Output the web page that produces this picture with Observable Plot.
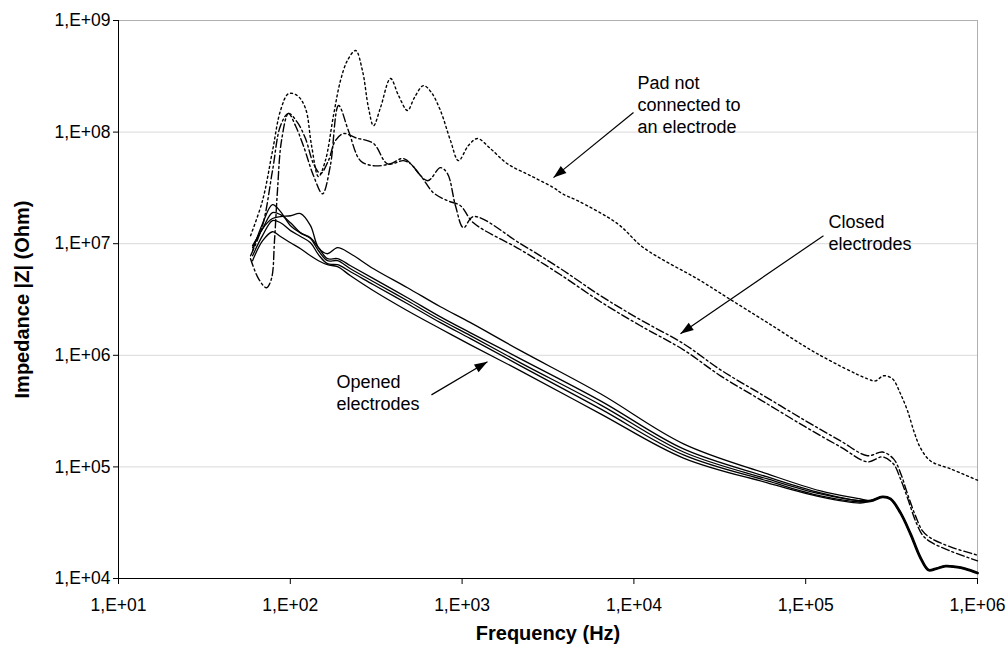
<!DOCTYPE html>
<html><head><meta charset="utf-8">
<script src="https://cdn.jsdelivr.net/npm/d3@7"></script>
<script src="https://cdn.jsdelivr.net/npm/@observablehq/plot@0.6"></script>
<style>
html,body{margin:0;padding:0;background:#fff;}
#chart{width:1007px;height:648px;}
</style></head><body><div id="chart"></div>
<script>
// ---- data: [frequency (Hz), |Z| (Ohm)] ----
const padCurve = [[58.7,1.18e7],[68.9,2.43e7],[78.8,6.8e7],[87.7,1.56e8],[97.6,2.21e8],[110,2.12e8],[122.6,1.63e8],[132.9,7.6e7],[145.9,3.99e7],[160,5.55e7],[178.4,1.41e8],[196,2.9e8],[215,4.38e8],[240,5.38e8],[263,3.56e8],[285,1.66e8],[305,1.14e8],[335,1.66e8],[383,3.02e8],[427,2.12e8],[481,1.56e8],[528,2.04e8],[596,2.61e8],[663,2.26e8],[748,1.56e8],[856,8.4e7],[953,5.55e7],[1089,7.6e7],[1229,8.75e7],[1463,7.11e7],[1837,5.2e7],[2500,4.07e7],[3405,3.18e7],[3837,2.8e7],[4699,2.43e7],[8039,1.51e7],[11380,9.21e6],[24430,4.66e6],[35080,3.28e6],[59950,1.96e6],[117200,1.03e6],[229000,6.15e5],[254700,5.9e5],[283700,6.55e5],[320000,6.15e5],[356300,4.52e5],[391500,3.18e5],[429300,2.02e5],[465600,1.48e5],[532700,1.13e5],[696700,9.6e4],[1000000,7.6e4]];

const closedCurve1 = [[58.7,7.8e6],[68.9,1.45e7],[78.8,4.52e7],[87.7,1.14e8],[97.6,1.47e8],[110,1.22e8],[122.6,8.75e7],[136.5,5.2e7],[149.9,4.25e7],[166.7,5.55e7],[183,8.4e7],[204,9.7e7],[240,8.9e7],[305,7.9e7],[368,5.2e7],[456,5.55e7],[501,5.2e7],[629,3.67e7],[748,4.8e7],[822,4.25e7],[915,2.19e7],[1019,1.39e7],[1164,1.75e7],[2188,1.0e7],[3741,5.97e6],[6391,3.42e6],[10920,2.08e6],[19440,1.27e6],[31920,7.41e5],[54560,4.52e5],[99800,2.59e5],[159500,1.71e5],[229000,1.26e5],[280000,1.36e5],[324600,1.18e5],[356300,8.83e4],[391500,5.72e4],[435600,3.64e4],[478600,2.67e4],[532700,2.31e4],[696700,1.92e4],[1000000,1.62e4]];

const closedCurve2 = [[58.7,7.34e6],[65.3,4.86e6],[72.7,4.03e6],[77.7,4.86e6],[80.9,1.06e7],[84.2,2.99e7],[88.9,8.4e7],[97.6,1.47e8],[107.2,1.14e8],[119,7.6e7],[136.5,4.07e7],[154,2.8e7],[171,5.0e7],[191,1.73e8],[218,1.03e8],[256,5.55e7],[305,5.0e7],[383,5.2e7],[456,5.79e7],[573,4.07e7],[681,2.86e7],[822,2.43e7],[978,2.19e7],[1164,1.54e7],[2188,8.83e6],[3741,5.27e6],[6391,3.02e6],[10920,1.84e6],[19440,1.12e6],[31920,6.55e5],[54560,3.99e5],[99800,2.28e5],[159500,1.51e5],[229000,1.11e5],[280000,1.23e5],[324600,1.06e5],[356300,7.8e4],[391500,5.27e4],[435600,3.28e4],[478600,2.45e4],[532700,2.13e4],[696700,1.76e4],[1000000,1.44e4]];

const openFreq = [60.3,68.9,78.8,87.7,100.3,114.7,131.1,145.9,164.6,188.3,224.1,305,481,748,1119,2188,6391,19440,59950,122000,208400];
const open1Z = [9.21e6,1.36e7,1.68e7,1.75e7,1.78e7,1.86e7,1.45e7,9.21e6,8.13e6,9.21e6,8.13e6,5.97e6,4.03e6,2.72e6,1.96e6,1.10e6,4.52e5,1.61e5,8.65e4,6.09e4,5.16e4];
const open2Z = [8.65e6,1.51e7,2.24e7,1.94e7,1.45e7,1.25e7,1.13e7,9.21e6,7.34e6,7.34e6,6.35e6,4.86e6,3.28e6,2.21e6,1.59e6,9.30e5,3.91e5,1.45e5,8.13e4,5.85e4,4.96e4];
const open3Z = [9.60e6,1.36e7,1.90e7,1.82e7,1.54e7,1.25e7,1.11e7,8.65e6,7.04e6,7.04e6,5.97e6,4.56e6,3.08e6,2.08e6,1.50e6,8.56e5,3.60e5,1.36e5,7.80e4,5.72e4,4.96e4];
const open4Z = [7.80e6,1.18e7,1.61e7,1.54e7,1.31e7,1.16e7,1.02e7,7.97e6,6.62e6,6.48e6,5.61e6,4.29e6,2.90e6,1.96e6,1.41e6,8.05e5,3.31e5,1.28e5,7.49e4,5.49e4,4.86e4];
const open5Z = [7.04e6,1.06e7,1.28e7,1.16e7,1.02e7,9.02e6,7.80e6,7.04e6,6.48e6,6.22e6,5.16e6,3.79e6,2.51e6,1.73e6,1.24e6,7.26e5,2.99e5,1.20e5,7.19e4,5.38e4,4.75e4];
// shared high-frequency tail where the opened-electrode curves coincide
const openTailFreq = [238400,280000,311700,356300,407400,465800,518600,569600,651300,744700,851500,1000000];
const openTailZ = [4.96e4,5.38e4,5.16e4,3.87e4,2.51e4,1.53e4,1.19e4,1.22e4,1.29e4,1.27e4,1.22e4,1.12e4];

const xTicks = [1e1,1e2,1e3,1e4,1e5,1e6];
const xTickLabels = ["1,E+01","1,E+02","1,E+03","1,E+04","1,E+05","1,E+06"];
const yTicks = [1e4,1e5,1e6,1e7,1e8,1e9];
const yTickLabels = ["1,E+04","1,E+05","1,E+06","1,E+07","1,E+08","1,E+09"];

const notes = [
  {f:10500, z:1.80e8, text:"Pad not\nconnected to\nan electrode"},
  {f:135700, z:1.28e7, text:"Closed\nelectrodes"},
  {f:185.7, z:4.71e5, text:"Opened\nelectrodes"}
];
const arrows = [
  {f1:9948, z1:1.50e8, f2:3405, z2:3.91e7},
  {f1:126900, z1:1.18e7, f2:18670, z2:1.56e6},
  {f1:663, z1:4.42e5, f2:1405, z2:8.74e5}
];
const xTitle = "Frequency (Hz)";
const yTitle = "Impedance |Z| (Ohm)";

// ---- build ----
const W = 1007, H = 648;
const M = {top:20, right:30, bottom:70, left:118};
const toRows = (pairs, s) => pairs.map(([f,z]) => ({f, z, s}));
const padRows = toRows(padCurve, "pad");
const closedRows = [...toRows(closedCurve1,"c1"), ...toRows(closedCurve2,"c2")];
const tailPairs = openTailFreq.map((f,i)=>[f, openTailZ[i]]);
const openRows = [open1Z,open2Z,open3Z,open4Z,open5Z].flatMap((zs,k) =>
  toRows([...openFreq.map((f,i)=>[f, zs[i]]), ...tailPairs], "o"+k));
const tailRows = toRows([[openFreq[openFreq.length-1], open3Z[open3Z.length-1]], ...tailPairs], "tail");

// arrow head orientation (screen-space direction)
const sx = d3.scaleLog([1e1,1e6],[M.left, W-M.right]);
const sy = d3.scaleLog([1e4,1e9],[H-M.bottom, M.top]);
const heads = arrows.map(a => {
  const dx = sx(a.f2)-sx(a.f1), dy = sy(a.z2)-sy(a.z1);
  return {f:a.f2, z:a.z2, angle: Math.atan2(dx, -dy)*180/Math.PI};
});
const headSymbol = {draw(ctx){ ctx.moveTo(0,0); ctx.lineTo(-4.5,13); ctx.lineTo(4.5,13); ctx.closePath(); }};

const xfmt = d => xTickLabels[xTicks.indexOf(d)];
const yfmt = d => yTickLabels[yTicks.indexOf(d)];

const plot = Plot.plot({
  width: W, height: H,
  marginTop: M.top, marginRight: M.right, marginBottom: M.bottom, marginLeft: M.left,
  style: {fontFamily: "'Liberation Sans', Arial, sans-serif", fontSize: "17.5px", background: "#fff", color: "#000"},
  x: {type: "log", domain: [1e1, 1e6]},
  y: {type: "log", domain: [1e4, 1e9]},
  marks: [
    Plot.gridY(yTicks, {stroke: "#d9d9d9", strokeOpacity: 1}),
    Plot.frame({stroke: "#b0b0b0"}),
    Plot.axisX({ticks: xTicks, tickFormat: xfmt, tickSize: 6, tickPadding: 14, label: null}),
    Plot.axisY({ticks: yTicks, tickFormat: yfmt, tickSize: 5, tickPadding: 3, label: null}),
    Plot.ruleX([1e1], {stroke: "#000"}),
    Plot.ruleY([1e4], {stroke: "#000"}),
    Plot.line(openRows, {x: "f", y: "z", z: "s", curve: "catmull-rom", stroke: "#000", strokeWidth: 1.3}),
    Plot.line(tailRows, {x: "f", y: "z", curve: "catmull-rom", stroke: "#000", strokeWidth: 2.8}),
    Plot.line(closedRows, {x: "f", y: "z", z: "s", curve: "catmull-rom", stroke: "#000", strokeWidth: 1.4, strokeDasharray: "8,3,2,3"}),
    Plot.line(padRows, {x: "f", y: "z", curve: "catmull-rom", stroke: "#000", strokeWidth: 1.4, strokeDasharray: "2,3"}),
    Plot.link(arrows, {x1: "f1", y1: "z1", x2: "f2", y2: "z2", stroke: "#000", strokeWidth: 1.2}),
    Plot.dot(heads, {x: "f", y: "z", rotate: "angle", symbol: headSymbol, fill: "#000", stroke: null}),
    Plot.text(notes, {x: "f", y: "z", text: "text", textAnchor: "start", lineAnchor: "middle", lineHeight: 1.22, fontSize: 18, fill: "#000"}),
    Plot.text([xTitle], {frameAnchor: "bottom", dy: 55, lineAnchor: "middle", fontWeight: "bold", fontSize: 20, fill: "#000"}),
    Plot.text([yTitle], {frameAnchor: "left", dx: -96, rotate: -90, lineAnchor: "middle", textAnchor: "middle", fontWeight: "bold", fontSize: 20, fill: "#000"})
  ]
});
document.getElementById("chart").appendChild(plot);
</script></body></html>
